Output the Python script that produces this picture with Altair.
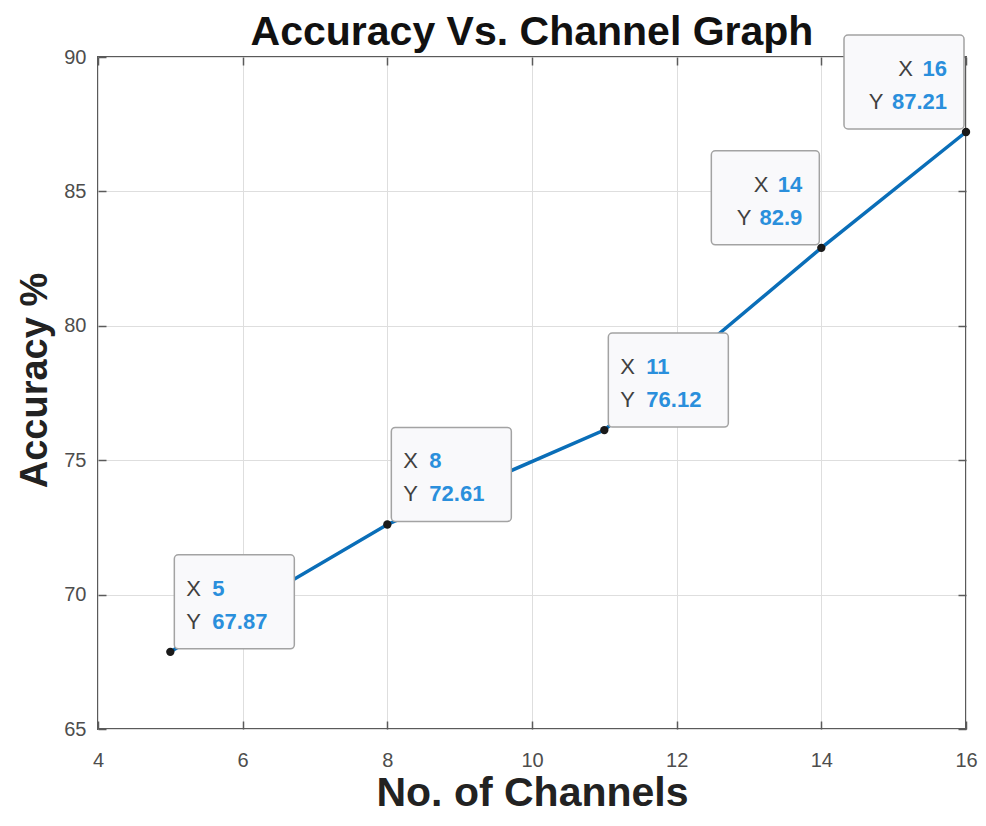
import altair as alt
import pandas as pd

# ---- data ----
channels = [5, 8, 11, 14, 16]
accuracy = [67.87, 72.61, 76.12, 82.9, 87.21]
tip_side = ["left", "left", "left", "right", "right"]
x_ticks = [4, 6, 8, 10, 12, 14, 16]
y_ticks = [65, 70, 75, 80, 85, 90]

df = pd.DataFrame({"ch": channels, "acc": accuracy, "side": tip_side})
df["xs"] = [str(v) for v in channels]
df["ys"] = [f"{v:g}" for v in accuracy]

FONT = "Liberation Sans"
LINE_BLUE = "#0A6EB8"
TIP_BLUE = "#2a8fdc"
TIP_GREY = "#404040"
FRAME = "#5a5a5a"

xs = alt.Scale(domain=[4, 16], nice=False, zero=False)
ys = alt.Scale(domain=[65, 90], nice=False, zero=False)

x_axis = alt.Axis(
    values=x_ticks, title="No. of Channels", orient="bottom", offset=-8,
    domain=False, tickSize=8, tickColor=FRAME, tickWidth=1.5,
    labelPadding=21, labelFontSize=20, labelFont=FONT, labelColor="#4d4d4d",
    labelFlush=False, labelOverlap=False,
    grid=True, gridColor="#dedede", gridWidth=1,
    titleFont=FONT, titleFontSize=41, titleFontWeight="bold", titleColor="#222222",
    titleBaseline="alphabetic", titleY=84,
)
y_axis = alt.Axis(
    values=y_ticks, title="Accuracy %", orient="left", offset=-8,
    domain=False, tickSize=8, tickColor=FRAME, tickWidth=1.5,
    labelPadding=12, labelFontSize=20, labelFont=FONT, labelColor="#4d4d4d",
    labelOverlap=False,
    grid=True, gridColor="#dedede", gridWidth=1,
    titleFont=FONT, titleFontSize=38, titleFontWeight="bold", titleColor="#222222",
    titleBaseline="alphabetic", titleAngle=270, titleX=-60, titleY=323,
)
x_top = alt.Axis(values=x_ticks, orient="top", offset=-8, domain=False, labels=False,
                 tickSize=8, tickColor=FRAME, tickWidth=1.5, grid=False, title=None)
y_right = alt.Axis(values=y_ticks, orient="right", offset=-8, domain=False, labels=False,
                   tickSize=8, tickColor=FRAME, tickWidth=1.5, grid=False, title=None)

base = alt.Chart(df)

line = base.mark_line(color=LINE_BLUE, strokeWidth=3.5).encode(
    x=alt.X("ch:Q", scale=xs, axis=x_axis),
    y=alt.Y("acc:Q", scale=ys, axis=y_axis),
)

layers = [line]

def vwidth(s):
    return sum(6.5 if c == "." else 12.5 for c in s)

for ch, acc, side, xs_txt, ys_txt in zip(channels, accuracy, tip_side, df["xs"], df["ys"]):
    w = 36 + 12 * (len(ys_txt) + 2)
    sub = base.transform_filter(alt.datum.ch == ch)
    enc = dict(
        x=alt.X("ch:Q", scale=xs, axis=None),
        y=alt.Y("acc:Q", scale=ys, axis=None),
    )
    if side == "left":
        x0, x1 = 4, 4 + w
    else:
        x0, x1 = -2 - w, -2
    box = sub.mark_rect(
        xOffset=x0, x2Offset=x1, yOffset=-3, y2Offset=-97,
        fill="#f9f9fb", stroke="#a3a3a3", strokeWidth=1.5, cornerRadius=4,
    ).encode(x2=alt.X2("ch:Q"), y2=alt.Y2("acc:Q"), **enc)
    layers.append(box)
    if side == "left":
        specs = [
            ("X", 16, -56, "left", TIP_GREY, "normal"),
            ("Y", 16, -23, "left", TIP_GREY, "normal"),
            (xs_txt, 42, -56, "left", TIP_BLUE, "bold"),
            (ys_txt, 42, -23, "left", TIP_BLUE, "bold"),
        ]
    else:
        specs = [
            (xs_txt, -19, -56, "right", TIP_BLUE, "bold"),
            (ys_txt, -19, -23, "right", TIP_BLUE, "bold"),
            ("X", -19 - vwidth(xs_txt) - 9, -56, "right", TIP_GREY, "normal"),
            ("Y", -19 - vwidth(ys_txt) - 7, -23, "right", TIP_GREY, "normal"),
        ]
    for txt, dx, dy, al, col, wt in specs:
        layers.append(
            sub.mark_text(
                text=txt, dx=dx, dy=dy, align=al, baseline="alphabetic",
                font=FONT, fontSize=22, fontWeight=wt, color=col,
            ).encode(**enc)
        )

points = base.mark_circle(size=70, color="#1a1a1a", opacity=1).encode(
    x=alt.X("ch:Q", scale=xs, axis=x_top),
    y=alt.Y("acc:Q", scale=ys, axis=y_right),
)
layers.append(points)

chart = (
    alt.layer(*layers)
    .resolve_axis(x="independent", y="independent")
    .properties(
        width=868,
        height=672,
        autosize=alt.AutoSizeParams(type="none"),
        padding={"left": 90, "top": 49, "right": 12, "bottom": 86},
        title=alt.Title(
            "Accuracy Vs. Channel Graph", fontSize=41, font=FONT, fontWeight="bold",
            color="#111111", anchor="middle", frame="group", offset=-20,
        ),
    )
    .configure_view(stroke=FRAME, strokeWidth=2)
)

chart.save("out.html", embed_options={"renderer": "svg", "actions": False})
